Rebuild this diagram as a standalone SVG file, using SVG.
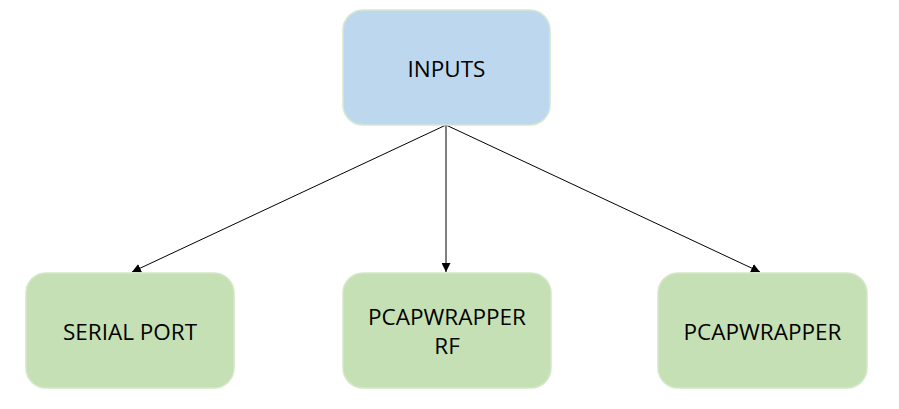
<svg xmlns="http://www.w3.org/2000/svg" width="899" height="409" viewBox="0 0 899 409">
<style>
.blue{fill:#BDD7EE;stroke:#D5E8D0;stroke-width:1.5}
.green{fill:#C5E0B4;stroke:#D3E8C6;stroke-width:1.5}
.t{font-family:"Open Sans","Noto Sans",sans-serif;font-size:22.5px;fill:#000;text-anchor:middle}
.c{stroke:#000;stroke-width:1;fill:none;marker-end:url(#ah)}
</style>
<defs>
<marker id="ah" viewBox="0 0 10 10" refX="10" refY="5" markerWidth="9" markerHeight="9" markerUnits="userSpaceOnUse" orient="auto">
<path d="M0,0 L10,5 L0,10 z" fill="#000"/>
</marker>
</defs>
<rect width="899" height="409" fill="#fff"/>
<g id="connectors">
<line class="c" x1="446" y1="125" x2="132" y2="272"/>
<line class="c" x1="446" y1="125" x2="446" y2="272"/>
<line class="c" x1="446" y1="125" x2="760" y2="272"/>
</g>
<g id="inputs">
<rect class="blue" x="343" y="10" width="207" height="115" rx="20"/>
<text class="t" x="446.5" y="77">INPUTS</text>
</g>
<g id="serial-port">
<rect class="green" x="26" y="273" width="208" height="115" rx="20"/>
<text class="t" x="130" y="340">SERIAL PORT</text>
</g>
<g id="pcapwrapper-rf">
<rect class="green" x="343" y="273" width="208" height="115" rx="20"/>
<text class="t" x="447" y="325">PCAPWRAPPER</text>
<text class="t" x="447" y="354">RF</text>
</g>
<g id="pcapwrapper">
<rect class="green" x="658" y="273" width="209" height="115" rx="20"/>
<text class="t" x="762.5" y="340">PCAPWRAPPER</text>
</g>
</svg>
